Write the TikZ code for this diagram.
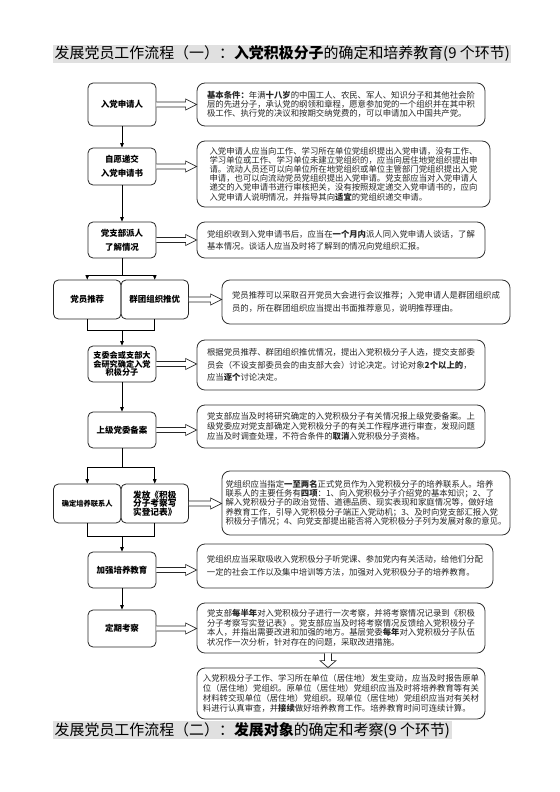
\documentclass[tikz,border=0pt]{standalone}
\usepackage{fontspec}
\setmainfont{Noto Sans CJK SC}
\usetikzlibrary{calc,arrows.meta}
\newcommand\rfont[1]{\fontsize{8.4}{#1}\selectfont}
\newcommand\lfont[2]{\bfseries\fontsize{#1}{#2}\selectfont}
\tikzset{
 lbox/.style={draw=black!85, line width=0.8pt, rounded corners=5pt, align=center, font=\lfont{8.5}{14}, inner sep=1pt, minimum width=68bp},
 rbox/.style={draw=black!80, line width=0.8pt, rounded corners=8pt, align=left, text=black!85, inner sep=1pt, minimum width=288bp},
 conn/.style={draw=black, line width=0.7pt, -{Triangle[length=4.5pt,width=3.6pt]}},
 plainline/.style={draw=black, line width=0.7pt},
 hollow/.style={draw=black!85, line width=0.7pt, fill=white, line join=miter},
 titleband/.style={fill=black!12, anchor=west, inner xsep=1.5pt, inner ysep=0pt, minimum height=18bp, font=\fontsize{15}{16}\selectfont},
}
\newcommand\harrow[2]{%
 \path (#1.east) coordinate (ha0) (#1.east -| #2.west) coordinate (ha1);
 \draw[hollow] ($(ha0)+(0,-2.5)$) -- ($(ha1)+(-11,-2.5)$) -- ($(ha1)+(-11,-5.5)$) -- (ha1) -- ($(ha1)+(-11,5.5)$) -- ($(ha1)+(-11,2.5)$) -- ($(ha0)+(0,2.5)$);}
\begin{document}
\begin{tikzpicture}[x=1bp,y=-1bp]
\useasboundingbox[fill=white] (0,0) rectangle (560,792);

% titles
\node[titleband] (t1) at (53,54) {发展党员工作流程（一）：\textbf{入党积极分子}的确定和培养教育(9 个环节)};
\node[titleband] (t2) at (53,730) {发展党员工作流程（二）：\textbf{发展对象}的确定和考察(9 个环节)};

% left column
\node[lbox, minimum height=43bp] (L1) at (122,104.5) {入党申请人};
\node[lbox, minimum height=37bp] (L2) at (122,166.5) {自愿递交\\入党申请书};
\node[lbox, minimum height=36bp] (L3) at (122,240) {党支部派人\\了解情况};
\node[lbox, minimum height=39bp, minimum width=67.5bp] (L4a) at (87.25,299.5) {党员推荐};
\node[lbox, minimum height=39bp, minimum width=67.5bp] (L4b) at (154.75,299.5) {群团组织推优};
\node[lbox, minimum height=36bp, font=\lfont{8.2}{8.6}] (L5) at (122,364) {支委会或支部大\\会研究确定入党\\积极分子};
\node[lbox, minimum height=36bp] (L6) at (122,430) {上级党委备案};
\node[lbox, minimum height=39bp, minimum width=67.5bp, font=\lfont{7.3}{9}] (L7a) at (87.25,503.5) {确定培养联系人};
\node[lbox, minimum height=39bp, minimum width=67.5bp, font=\lfont{8.7}{8.8}] (L7b) at (154.75,503.5) {发放《积极\\分子考察写\\实登记表》};
\node[lbox, minimum height=36bp] (L8) at (122,570) {加强培养教育};
\node[lbox, minimum height=37bp] (L9) at (122,628.5) {定期考察};

% right column
\node[rbox, minimum height=43bp, font=\rfont{9.2}] (R1) at (341,104.5) {\textbf{基本条件：}年满\textbf{十八岁}的中国工人、农民、军人、知识分子和其他社会阶\\层的先进分子，承认党的纲领和章程，愿意参加党的一个组织并在其中积\\极工作、执行党的决议和按期交纳党费的，可以申请加入中国共产党。};
\node[rbox, minimum height=66bp, minimum width=293bp, font=\rfont{9.2}] (R2) at (343.5,174) {入党申请人应当向工作、学习所在单位党组织提出入党申请，没有工作、\\学习单位或工作、学习单位未建立党组织的，应当向居住地党组织提出申\\请。流动人员还可以向单位所在地党组织或单位主管部门党组织提出入党\\申请，也可以向流动党员党组织提出入党申请。党支部应当对入党申请人\\递交的入党申请书进行审核把关，没有按照规定递交入党申请书的，应向\\入党申请人说明情况，并指导其向\textbf{适宜}的党组织递交申请。};
\node[rbox, minimum height=36bp, font=\rfont{12.3}] (R3) at (341,240) {党组织收到入党申请书后，应当在\textbf{一个月内}派人同入党申请人谈话，了解\\基本情况。谈话人应当及时将了解到的情况向党组织汇报。};
\node[rbox, minimum height=44bp, font=\rfont{12.3}] (R4) at (366,302) {党员推荐可以采取召开党员大会进行会议推荐；入党申请人是群团组织成\\员的，所在群团组织应当提出书面推荐意见，说明推荐理由。};
\node[rbox, minimum height=50bp, font=\rfont{12.5}] (R5) at (341,365) {根据党员推荐、群团组织推优情况，提出入党积极分子人选，提交支部委\\员会（不设支部委员会的由支部大会）讨论决定。讨论对象\textbf{2个以上的}，\\应当\textbf{逐个}讨论决定。};
\node[rbox, minimum height=43bp, font=\rfont{10}] (R6) at (341,426.5) {党支部应当及时将研究确定的入党积极分子有关情况报上级党委备案。上\\级党委应对党支部确定入党积极分子的有关工作程序进行审查，发现问题\\应当及时调查处理，不符合条件的\textbf{取消}入党积极分子资格。};
\node[rbox, minimum height=64bp, font=\rfont{9.1}] (R7) at (366,503) {党组织应当指定\textbf{一至两名}正式党员作为入党积极分子的培养联系人。培养\\联系人的主要任务有\textbf{四项}：1、向入党积极分子介绍党的基本知识；2、了\\解入党积极分子的政治觉悟、道德品质、现实表现和家庭情况等，做好培\\养教育工作，引导入党积极分子端正入党动机；3、及时向党支部汇报入党\\积极分子情况；4、向党支部提出能否将入党积极分子列为发展对象的意见。};
\node[rbox, minimum height=44bp, minimum width=296bp, font=\rfont{12.5}] (R8) at (345,566) {党组织应当采取吸收入党积极分子听党课、参加党内有关活动，给他们分配\\一定的社会工作以及集中培训等方法，加强对入党积极分子的培养教育。};
\node[rbox, minimum height=50bp, font=\rfont{9.6}] (R9) at (341,628) {党支部\textbf{每半年}对入党积极分子进行一次考察，并将考察情况记录到《积极\\分子考察写实登记表》。党支部应当及时将考察情况反馈给入党积极分子\\本人，并指出需要改进和加强的地方。基层党委\textbf{每年}对入党积极分子队伍\\状况作一次分析，针对存在的问题，采取改进措施。};
\node[rbox, minimum height=51bp, font=\rfont{9.8}] (R10) at (341,693.5) {入党积极分子工作、学习所在单位（居住地）发生变动，应当及时报告原单\\位（居住地）党组织。原单位（居住地）党组织应当及时将培养教育等有关\\材料转交现单位（居住地）党组织。现单位（居住地）党组织应当对有关材\\料进行认真审查，并\textbf{接续}做好培养教育工作。培养教育时间可连续计算。};

% vertical connectors
\draw[conn] (L1) -- (L2);
\draw[conn] (L2) -- (L3);
\coordinate (s1) at (122,275);
\draw[plainline] (L3) -- (s1);
\draw[conn] (s1) -| (L4a.north);
\draw[conn] (s1) -| (L4b.north);
\coordinate (m1) at (122,330);
\draw[plainline] (L4a.south) |- (m1);
\draw[plainline] (L4b.south) |- (m1);
\draw[conn] (m1) -- (L5);
\draw[conn] (L5) -- (L6);
\coordinate (s2) at (122,467);
\draw[plainline] (L6) -- (s2);
\draw[conn] (s2) -| (L7a.north);
\draw[conn] (s2) -| (L7b.north);
\coordinate (m2) at (122,536);
\draw[plainline] (L7a.south) |- (m2);
\draw[plainline] (L7b.south) |- (m2);
\draw[conn] (m2) -- (L8);
\draw[conn] (L8) -- (L9);

% hollow arrows
\harrow{L1}{R1}
\harrow{L2}{R2}
\harrow{L3}{R3}
\harrow{L4b}{R4}
\harrow{L5}{R5}
\harrow{L6}{R6}
\harrow{L7b}{R7}
\harrow{L8}{R8}
\harrow{L9}{R9}

% vertical hollow arrow
\coordinate (v0) at ($(R9.south)+(-13,0)$);
\coordinate (v1) at (v0 |- R10.north);
\draw[hollow] ($(v0)+(-3.5,0)$) -- ($(v1)+(-3.5,-7)$) -- ($(v1)+(-8,-7)$) -- (v1) -- ($(v1)+(8,-7)$) -- ($(v1)+(3.5,-7)$) -- ($(v0)+(3.5,0)$);
\end{tikzpicture}
\end{document}
